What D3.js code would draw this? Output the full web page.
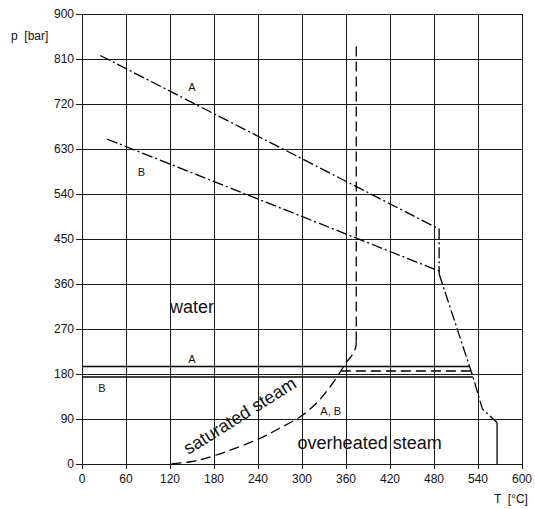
<!DOCTYPE html>
<html><head><meta charset="utf-8">
<script src="https://cdn.jsdelivr.net/npm/d3@7"></script>
<style>
html,body{margin:0;padding:0;background:#fff;}
svg{display:block;}
text{font-family:"Liberation Sans",Arial,sans-serif;fill:#111;}
</style></head>
<body>
<script>
// ---- data ----
const xTicks = [0,60,120,180,240,300,360,420,480,540,600];
const yTicks = [0,90,180,270,360,450,540,630,720,810,900];
// curve A (dash-dot), then shared descent
const curveA = [[25,817],[487,470],[487,380]];
const curveB = [[34,650],[487,386],[487,380]];
const descent = [[487,380],[533,175],[546,110],[566,83]];
const descentTail = [[566,83],[566,0]];
// horizontal limit lines
const limitA = [[0,195],[528,195]];
const limitB = [[0,174],[533,174]];
const limitAB = [[353,186],[530,186]];
// saturation curve (dashed) and critical temperature line
const satCurve = [[122,0],[150,5],[165,10],[197,25],[242,51],[269,71],[301,98],[325,130],[342,162],[353,186],[360,203],[368,217],[373,232],[374,245]];
const critLine = [[374,245],[374,842]];
// labels (data coordinates)
const labels = [
  {t:"A", x:145, y:746, s:11},
  {t:"B", x:76, y:576, s:11},
  {t:"A", x:145, y:202, s:11},
  {t:"B", x:22, y:144, s:11},
  {t:"A, B", x:325, y:98, s:11},
  {t:"water", x:120, y:302, s:18},
  {t:"overheated steam", x:294, y:30, s:18}
];

const W=535,H=509;
const x=d3.scaleLinear().domain([0,600]).range([82,522]);
const y=d3.scaleLinear().domain([0,900]).range([464,14]);
const svg=d3.select("body").append("svg").attr("width",W).attr("height",H);

// grid
const g=svg.append("g").attr("shape-rendering","crispEdges");
g.selectAll(".vx").data(xTicks).join("line")
 .attr("x1",d=>x(d)).attr("x2",d=>x(d)).attr("y1",y(0)+5).attr("y2",y(900))
 .attr("stroke","#1a1a1a").attr("stroke-width",1);
g.selectAll(".hy").data(yTicks).join("line")
 .attr("x1",x(0)-6).attr("x2",x(600)).attr("y1",d=>y(d)).attr("y2",d=>y(d))
 .attr("stroke","#1a1a1a").attr("stroke-width",1);

// tick labels
svg.selectAll(".xl").data(xTicks).join("text")
 .attr("x",d=>x(d)).attr("y",483).attr("text-anchor","middle").attr("font-size",12).text(d=>d);
svg.selectAll(".yl").data(yTicks).join("text")
 .attr("x",74).attr("y",d=>y(d)+4).attr("text-anchor","end").attr("font-size",12).text(d=>d);
svg.append("text").attr("x",11).attr("y",40).attr("font-size",12).attr("xml:space","preserve").text("p  [bar]");
svg.append("text").attr("x",494).attr("y",503).attr("font-size",12).attr("xml:space","preserve").text("T  [°C]");

const line=d3.line().x(d=>x(d[0])).y(d=>y(d[1]));
const dashdot="11,3,2,3";
function path(data,dash,curve,w){
  svg.append("path").datum(data)
   .attr("d",(curve?line.curve(curve):line.curve(d3.curveLinear))(data))
   .attr("fill","none").attr("stroke","#000").attr("stroke-width",w||1.3)
   .attr("stroke-dasharray",dash||null);
  line.curve(d3.curveLinear);
}
path(curveA,dashdot);
path(curveB,dashdot);
path(descent,dashdot);
path(descentTail,"60,3,2,3");
path(limitA,null);
path(limitB,null);
path(limitAB,"10,5");
path(satCurve,"10,5",d3.curveCatmullRom);
path(critLine,"10,5");

svg.selectAll(".lab").data(labels).join("text")
 .attr("x",d=>x(d.x)).attr("y",d=>y(d.y)).attr("font-size",d=>d.s).text(d=>d.t);

// rotated label
svg.append("text").attr("font-size",18)
 .attr("transform",`translate(${x(145)},${y(18)}) rotate(-32)`)
 .text("saturated steam");
</script>
</body></html>
